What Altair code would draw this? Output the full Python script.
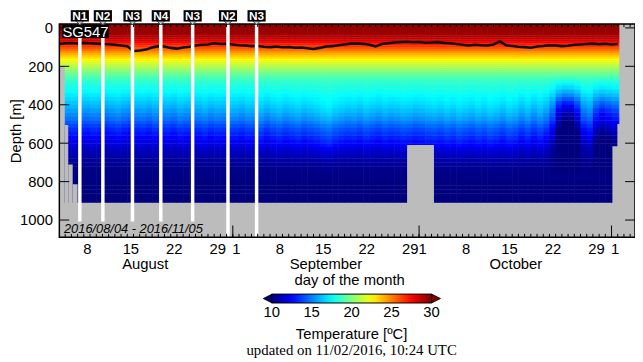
import altair as alt
import pandas as pd

alt.data_transformers.disable_max_rows()

# x = days since 2016-08-01 00:00 UTC, y = depth [m]
DEPTHS = [-20, 0, 10, 20, 30, 40, 50, 60, 70, 80, 90, 100, 110, 120, 130, 140, 150,
          160, 170, 180, 190, 200, 210, 220, 230, 240, 250, 260, 270, 280, 290,
          300, 320, 340, 360, 380, 400, 420, 440, 460, 480, 500, 520, 540, 560, 580,
          600, 620, 640, 660, 680, 700, 720, 740, 760, 780, 800, 820, 840, 860, 880]
DEPTH_BOTTOM = 910
TEMP_PROFILE = [29.6, 29.6, 29.5, 29.4, 29.3, 29.1, 28.7, 28.2, 27.6, 27.0, 26.5, 25.9, 25.3, 24.7, 24.1, 23.6, 23.1,
                22.6, 22.1, 21.7, 21.3, 20.9, 20.5, 20.1, 19.7, 19.4, 19.1, 18.8, 18.6, 18.4, 18.2,
                18.0, 17.7, 17.4, 17.1, 16.8, 16.5, 16.1, 15.7, 15.3, 14.8, 14.3, 13.8, 13.4, 13.0, 12.6,
                12.2, 11.7, 11.3, 11.0, 10.7, 10.5, 10.3, 10.2, 10.1, 10.1, 10.0, 10.0, 10.0, 10.0, 10.0]
DEEP_WEIGHT = [0, 0, 0, 0, 0, 0, 0, 0, 0, 0, 0, 0, 0, 0, 0, 0, 0,
               0, 0, 0, 0, 0, 0, 0, 0, 0, 0.02, 0.05, 0.1, 0.15, 0.2,
               0.25, 0.35, 0.45, 0.6, 0.75, 0.85, 0.95, 1, 1, 1, 1, 1, 1, 1, 0.95,
               0.85, 0.7, 0.55, 0.4, 0.3, 0.2, 0.12, 0.06, 0, 0, 0, 0, 0, 0, 0]
COL_DAYS = list(range(3, 94))
DEEP_ANOM = [-0.3, -0.5, -0.4, -0.6, -0.7, -0.5, -0.6,
             -0.8, -0.6, -0.4, -0.7, -0.9, -0.6, -0.5, -0.7, -0.4, -0.6,
             -0.5, -0.7, -0.3, -0.5, -0.6, -0.4, -0.2, -0.5, -0.3, -0.4, -0.1,
             -0.2, -0.4, -0.1, -0.2, 0.1, -0.3, 0.0, 0.2, -0.1, 0.1,
             0.3, 0.0, 0.2, 0.4, 0.7, 0.9, 0.5, 0.3, 0.1, 0.2,
             0.0, 0.3, 0.1, -0.1, 0.2, 0.0, 0.1, 0.3, 0.2, 0.0,
             0.1, 0.3, 0.4, 0.2, 0.5, 0.3, 0.6, 0.4, 0.2, 0.5,
             0.3, 0.6, 0.4, 0.1, 0.5, 0.3, -0.2, 0.2, -0.3, 0.1,
             -0.4, -1.5, -4.0, -5.0, -4.8, -3.5, -1.2, -0.8, -2.5, -3.2, -2.8, -2.4, -2.0]
MLD_DAYS = list(range(3, 94))
MLD = [84, 80, 79, 81, 78, 80, 82, 84, 85, 88, 92, 95, 120, 118, 113, 102, 95, 97, 104, 108,
       102, 98, 92, 88, 86, 80, 84, 83, 86, 90, 92, 95, 94, 98, 100, 97, 101, 99, 103, 102,
       106, 110, 104, 97, 95, 90, 86, 82, 81, 83, 88, 96, 84, 80, 76, 74, 72, 75, 73, 77,
       76, 74, 78, 80, 84, 88, 92, 88, 90, 92, 86, 70, 90, 94, 98, 100, 103, 97, 94, 90,
       92, 95, 93, 88, 86, 84, 82, 85, 83, 86, 84]
VISIT_DAYS = [6.36, 10.07, 14.84, 19.40, 24.53, 30.22, 34.83]
VISIT_LABELS = ["N1", "N2", "N3", "N4", "N3", "N2", "N3"]
GAP_X0 = [3.06, 3.93, 4.49, 5.21, 59.07, 92.14, 92.94, 93.26]
GAP_X1 = [3.93, 4.49, 5.21, 6.00, 63.40, 95.78, 95.78, 95.78]
GAP_Z0 = [198, 506, 711, 814, 610, 616, 500, -20]
LABEL_DAYS = [7.5, 14.5, 21.5, 28.5, 31.5, 38.5, 45.5, 52.5, 59.5, 61.5, 68.5, 75.5, 82.5, 89.5, 92.5]
MONTH_STARTS = [31, 61, 92]
MONTHS = ["August", "September", "October"]
MONTH_POS = [16.9, 46.0, 76.6]
DEPTH_TICKS = [0, 200, 400, 600, 800, 1000]
CBAR_VALUES = [10, 15, 20, 25, 30]

SANS = "Liberation Sans"
GRAY = "#bcbcbc"
W, H = 583, 216
CB_X, CB_Y, CB_LEN, CB_TH = 215, 273.5, 162, 9

rows = []
for j, d in enumerate(COL_DAYS):
    for i, z in enumerate(DEPTHS):
        last = i + 1 == len(DEPTHS)
        z_next = DEPTH_BOTTOM if last else DEPTHS[i + 1] + 1.5
        t = TEMP_PROFILE[i] + DEEP_ANOM[j] * DEEP_WEIGHT[i]
        t = max(10.0, min(30.0, t))
        rows.append({"d0": d, "d1": d + 1.08, "z0": z, "z1": z_next, "temp": round(t, 2)})
heat = pd.DataFrame(rows)

XS = alt.Scale(domain=[3.06, 95.78], nice=False, zero=False)
YS = alt.Scale(domain=[-20, 1090], reverse=True, nice=False, zero=False)
X_AXIS = alt.Axis(values=LABEL_DAYS, title=None, ticks=False, domain=False, grid=False,
                  labelFontSize=15, labelPadding=4, labelOverlap=False, labelFlush=False,
                  labelExpr="datum.value < 31 ? floor(datum.value) + 1 : datum.value < 61 ? floor(datum.value) - 30 : datum.value < 92 ? floor(datum.value) - 60 : floor(datum.value) - 91")
Y_AXIS = alt.Axis(values=DEPTH_TICKS, format="d", title="Depth [m]", ticks=False, domain=False, grid=False,
                  labelFontSize=15, labelPadding=7, titleFontSize=15, titleFontWeight="normal",
                  titleX=-44, titleY=108, titleAngle=270, titleAlign="center", titleBaseline="middle")


def X(f):
    return alt.X(f, type="quantitative", scale=XS, axis=X_AXIS)


def Y(f):
    return alt.Y(f, type="quantitative", scale=YS, axis=Y_AXIS)


JET_DOMAIN = [10, 12.5, 15, 17.5, 20, 22.5, 25, 27.5, 30]
JET_RANGE = ["#00007f", "#0000ff", "#007fff", "#00ffff", "#7fff7f", "#ffff00", "#ff7f00", "#ff0000", "#7f0000"]
CS = alt.Scale(domain=JET_DOMAIN, range=JET_RANGE, interpolate="rgb", clamp=True)
LEG = alt.Legend(orient="none", legendX=CB_X, legendY=CB_Y, direction="horizontal",
                 gradientLength=CB_LEN, gradientThickness=CB_TH, values=CBAR_VALUES,
                 labelFontSize=15, labelFont=SANS, labelColor="black", labelOffset=3,
                 labelExpr="''",
                 title="Temperature [ºC]", titleOrient="bottom", titleAnchor="middle",
                 titleFontSize=15, titleFont=SANS, titleFontWeight="normal", titleColor="black",
                 titlePadding=6, padding=0, offset=0,
                 gradientStrokeColor="black", gradientStrokeWidth=1)

one = pd.DataFrame({"k": [0]})

heat_layer = alt.Chart(heat).mark_rect(clip=True, strokeWidth=0).encode(
    x=X("d0"), x2="d1", y=Y("z0"), y2="z1",
    color=alt.Color("temp:Q", scale=CS, legend=LEG))

gaps = pd.DataFrame({"x0": GAP_X0, "x1": GAP_X1, "z0": GAP_Z0, "z1": [1090] * len(GAP_X0)})
gap_layer = alt.Chart(gaps).mark_rect(color=GRAY, clip=True).encode(
    x=X("x0"), x2="x1", y=Y("z0"), y2="z1")

mld = pd.DataFrame({"day": MLD_DAYS, "mld": MLD})
mld_layer = alt.Chart(mld).mark_line(color="#111111", strokeWidth=2.6, clip=True).encode(
    x=X("day"), y=Y("mld"))

visits = pd.DataFrame({"day": VISIT_DAYS, "label": VISIT_LABELS})
white_layer = alt.Chart(visits).mark_rule(color="white", strokeWidth=3.5).encode(x=X("day"))

date_box = alt.Chart(one).mark_rect(color=GRAY).encode(
    x=alt.value(4), x2=alt.value(146), y=alt.value(200), y2=alt.value(215))
date_text = alt.Chart(pd.DataFrame({"t": ["2016/08/04 - 2016/11/05"]})).mark_text(
    font=SANS, fontSize=13, fontStyle="italic", color="black", align="center", baseline="middle").encode(
    x=alt.value(75), y=alt.value(207.5), text="t:N")

sg_box = alt.Chart(one).mark_rect(color="black").encode(
    x=alt.value(3), x2=alt.value(50), y=alt.value(1), y2=alt.value(14))
sg_text = alt.Chart(pd.DataFrame({"t": ["SG547"]})).mark_text(
    font=SANS, fontSize=15, color="white", align="center", baseline="middle").encode(
    x=alt.value(26.5), y=alt.value(8), text="t:N")

day_ticks = pd.DataFrame({"d": list(range(4, 96))})
tick_bottom = alt.Chart(day_ticks).mark_rule(color="black", strokeWidth=1).encode(
    x=X("d"), y=alt.value(H), y2=alt.value(H - 3.5))
tick_top = alt.Chart(day_ticks).mark_rule(color="black", strokeWidth=1).encode(
    x=X("d"), y=alt.value(0), y2=alt.value(3))
month_ticks = alt.Chart(pd.DataFrame({"d": MONTH_STARTS})).mark_rule(color="black", strokeWidth=1).encode(
    x=X("d"), y=alt.value(H), y2=alt.value(H - 12))
ydf = pd.DataFrame({"z": DEPTH_TICKS})
ytick_left = alt.Chart(ydf).mark_rule(color="black", strokeWidth=1).encode(
    x=alt.value(0), x2=alt.value(10), y=Y("z"))
ytick_right = alt.Chart(ydf).mark_rule(color="black", strokeWidth=1).encode(
    x=alt.value(W - 10), x2=alt.value(W), y=Y("z"))
frame = alt.Chart(one).mark_rect(fillOpacity=0, stroke="black", strokeWidth=1.5).encode(
    x=alt.value(0), x2=alt.value(W), y=alt.value(0), y2=alt.value(H))

diamonds = alt.Chart(visits).mark_point(
    shape="M0,-1L1,0L0,1L-1,0Z", size=56, filled=True, fill="#c8c8c8", stroke="#444444",
    strokeWidth=1, opacity=1).encode(x=X("day"), y=alt.value(-3))
boxes = alt.Chart(visits).mark_point(
    shape="M-1.6,-1H1.6V1H-1.6Z", size=132, filled=True, color="black", opacity=1).encode(
    x=X("day"), y=alt.value(-8.3))
box_text = alt.Chart(visits).mark_text(
    font=SANS, fontSize=12, fontWeight="bold", color="white", align="center", baseline="middle").encode(
    x=X("day"), y=alt.value(-8), text="label:N")

months = alt.Chart(pd.DataFrame({"m": MONTHS, "pos": MONTH_POS})).mark_text(
    font=SANS, fontSize=15, color="black", align="center", baseline="middle").encode(
    x=X("pos"), y=alt.value(243), text="m:N")
dom_text = alt.Chart(pd.DataFrame({"t": ["day of the month"]})).mark_text(
    font=SANS, fontSize=15, color="black", align="center", baseline="middle").encode(
    x=alt.value(294), y=alt.value(259), text="t:N")

tri_left = alt.Chart(one).mark_point(
    shape="M1,-1L-1,0L1,1Z", size=81, filled=True, fill="#00007f", stroke="black", strokeWidth=0.8,
    opacity=1).encode(x=alt.value(CB_X - 4), y=alt.value(CB_Y + CB_TH / 2))
tri_right = alt.Chart(one).mark_point(
    shape="M-1,-1L1,0L-1,1Z", size=81, filled=True, fill="#7f0000", stroke="black", strokeWidth=0.8,
    opacity=1).encode(x=alt.value(CB_X + CB_LEN + 4.5), y=alt.value(CB_Y + CB_TH / 2))

cbar_parts = []
for v in CBAR_VALUES:
    px = CB_X + (v - CBAR_VALUES[0]) / (CBAR_VALUES[-1] - CBAR_VALUES[0]) * CB_LEN
    cbar_parts.append(alt.Chart(pd.DataFrame({"t": [str(v)]})).mark_text(
        font=SANS, fontSize=15, color="black", align="center", baseline="middle").encode(
        x=alt.value(px), y=alt.value(CB_Y + CB_TH + 9.5), text="t:N"))
    if CBAR_VALUES[0] < v < CBAR_VALUES[-1]:
        cbar_parts.append(alt.Chart(one).mark_rule(color="#222222", strokeWidth=1).encode(
            x=alt.value(px), y=alt.value(CB_Y + CB_TH), y2=alt.value(CB_Y + CB_TH - 2.5)))

updated = alt.Chart(pd.DataFrame({"t": ["updated on 11/02/2016, 10:24 UTC"]})).mark_text(
    font="Liberation Serif", fontSize=15, color="black", align="center", baseline="middle").encode(
    x=alt.value(296), y=alt.value(330), text="t:N")

chart = alt.layer(
    heat_layer, gap_layer, mld_layer, white_layer, date_box, date_text, sg_box, sg_text,
    tick_bottom, tick_top, month_ticks, ytick_left, ytick_right, frame,
    diamonds, boxes, box_text, months, dom_text, tri_left, tri_right, *cbar_parts, updated,
).properties(
    width=W, height=H,
    autosize=alt.AutoSizeParams(type="none"),
    padding={"left": 52, "top": 14, "right": 0, "bottom": 124},
).configure_view(fill=GRAY, stroke=None).configure_axis(
    labelFont=SANS, titleFont=SANS, labelColor="black", titleColor="black")

chart.save("out.html", embed_options={"renderer": "svg", "actions": False})
